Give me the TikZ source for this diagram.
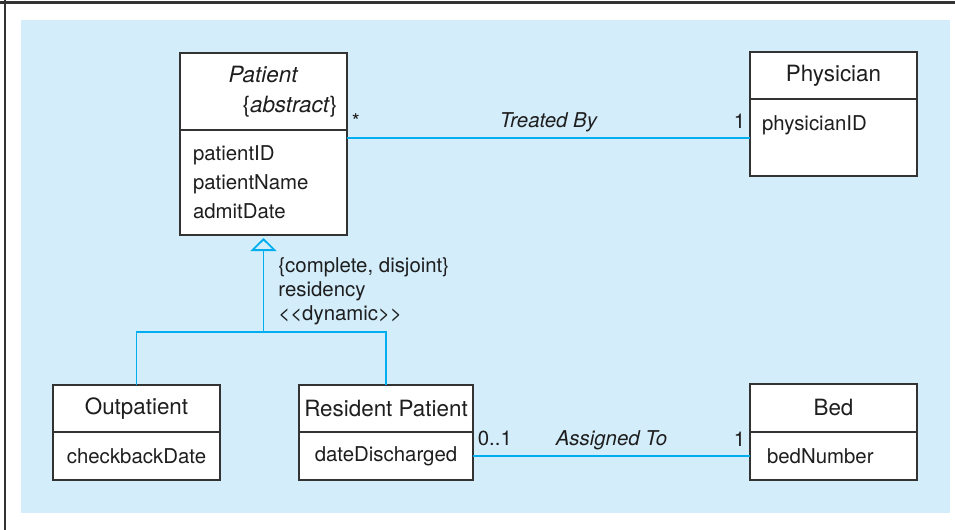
\documentclass[tikz,border=0pt]{standalone}
\usepackage{fontspec}
\setmainfont{TeX Gyre Heros}
\usetikzlibrary{positioning,arrows.meta,calc}
\definecolor{umlcyan}{RGB}{0,174,239}
\definecolor{bgblue}{RGB}{211,237,250}
\definecolor{boxgray}{RGB}{51,51,51}
\definecolor{txtgray}{RGB}{30,30,30}

\begin{document}
\begin{tikzpicture}[
    x=0.5pt, y=-0.5pt,
    classname/.style={rectangle, draw=boxgray, fill=white, line width=0.85pt, outer sep=0pt, align=center, minimum width=83.5pt, inner sep=2pt, text=txtgray, font=\fontsize{11.2}{15}\selectfont},
    attrs/.style={rectangle, draw=boxgray, fill=white, line width=0.85pt, outer sep=0pt, minimum width=83.5pt, inner ysep=2pt, text=txtgray, font=\fontsize{10.2}{14.5}\selectfont},
    assoc/.style={draw=umlcyan, line width=0.9pt},
    mult/.style={inner xsep=2pt, inner ysep=4.5pt, text=txtgray, font=\fontsize{10.2}{12}\selectfont},
    rolename/.style={inner sep=2.5pt, text=txtgray, font=\fontsize{10.2}{12}\selectfont\itshape},
    genlabel/.style={inner sep=0pt, align=left, text=txtgray, font=\fontsize{10.2}{12}\selectfont}
  ]
  \useasboundingbox (0,0) rectangle (955,530);
  % frame and panel
  \draw[boxgray, line width=1.5pt] (0,2) -- (955,2);
  \draw[boxgray, line width=1pt] (4.5,0) -- (4.5,530);
  \fill[bgblue] (21,20) rectangle (950,513);

  % classes
  \node[classname, minimum height=38.5pt] (pat) at (263.5,91.5) {\textit{Patient}\\\hspace*{26.5pt}\{\textit{abstract}\}};
  \node[attrs, below=0pt of pat, minimum height=52.5pt, align=left, inner xsep=6.5pt, text width=70.5pt] (patattr) {patientID\\patientName\\admitDate};

  \node[classname, minimum height=23.5pt] (phys) at (833.5,75.5) {Physician};
  \node[attrs, below=0pt of phys, minimum height=38.5pt, align=left, inner xsep=6pt, text width=71.5pt] (physattr) {physicianID\\\mbox{}};

  \node[classname, minimum height=23.5pt] (outp) at (136.5,408.5) {Outpatient};
  \node[attrs, below=0pt of outp, minimum height=24pt, align=center] (outattr) {checkbackDate};

  \node[classname, minimum width=87pt, minimum height=23.5pt] (resp) at (386,408.5) {Resident Patient};
  \node[attrs, below=0pt of resp, minimum width=87pt, minimum height=24pt, align=center] (resattr) {dateDischarged};

  \node[classname, minimum height=24pt] (bed) at (833.5,408) {Bed};
  \node[attrs, below=0pt of bed, minimum height=24pt, align=left, inner xsep=8.5pt, text width=66.5pt] (bedattr) {bedNumber};

  % associations
  \draw[assoc] ([yshift=-4pt]patattr.north east) -- node[rolename, above] {Treated By}
    node[mult, pos=0, above right] {*} node[mult, pos=1, above left] {1}
    ([yshift=-4pt]patattr.north east -| physattr.west);
  \draw[assoc] (resattr) -- node[rolename, above] {Assigned To}
    node[mult, pos=0, above right] {0..1} node[mult, pos=1, above left] {1} (bedattr);

  % generalization
  \coordinate (split) at ($(patattr.south)+(0,97)$);
  \draw[assoc] (outp.north) |- (split) -| (resp.north);
  \draw[assoc, -{Triangle[open, width=13pt, length=6.5pt]}] (split) -- ([yshift=-1.5pt]patattr.south);
  \node[genlabel, anchor=west] (genlbl) at (278,291) {\{complete, disjoint\}\\residency\\<\kern0pt<dynamic>\kern0pt>};
\end{tikzpicture}
\end{document}
